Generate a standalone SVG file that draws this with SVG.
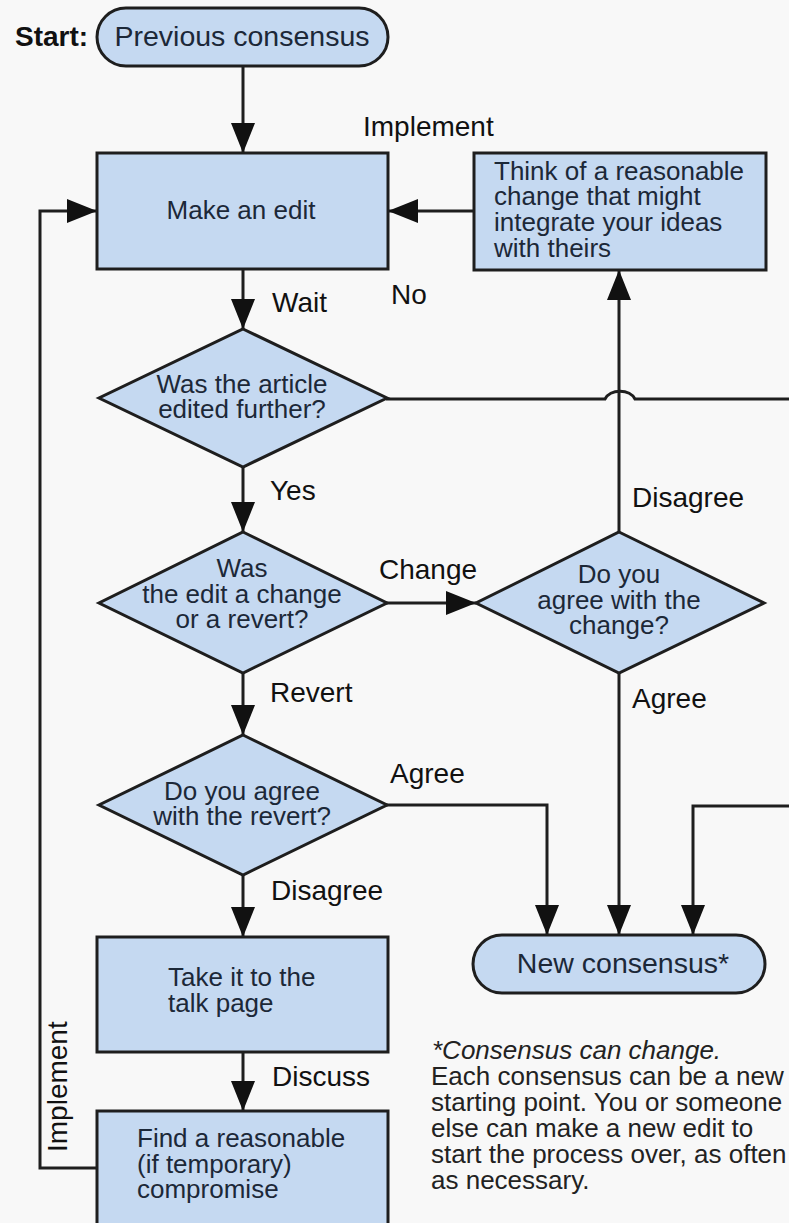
<svg xmlns="http://www.w3.org/2000/svg" width="789" height="1223" viewBox="0 0 789 1223">
<defs>
<style>
.bg{fill:#f8f8f8}
.node{fill:#c5d9f1;stroke:#1e1e1e;stroke-width:3}
.ntext{font-family:"Liberation Sans",Arial,sans-serif;font-size:26px;fill:#1c2838}
.ptext{font-family:"Liberation Sans",Arial,sans-serif;font-size:28.5px;fill:#1c2838}
.lbl{font-family:"Liberation Sans",Arial,sans-serif;font-size:28px;fill:#111}
.foot{font-family:"Liberation Sans",Arial,sans-serif;font-size:26px;fill:#222}
.conn{fill:none;stroke:#1e1e1e;stroke-width:3}
</style>
<marker id="arr" viewBox="0 0 30 24" refX="30" refY="12" markerWidth="30" markerHeight="24" markerUnits="userSpaceOnUse" orient="auto">
<path d="M0,0 L30,12 L0,24 z" fill="#111"/>
</marker>
</defs>
<rect class="bg" x="0" y="0" width="789" height="1223"/>

<g id="connectors">
<path class="conn" d="M243,66 V153" marker-end="url(#arr)"/>
<path class="conn" d="M243,269 V329" marker-end="url(#arr)"/>
<path class="conn" d="M243,467 V532" marker-end="url(#arr)"/>
<path class="conn" d="M243,673 V735" marker-end="url(#arr)"/>
<path class="conn" d="M243,875 V937" marker-end="url(#arr)"/>
<path class="conn" d="M243,1052 V1111" marker-end="url(#arr)"/>
<path class="conn" d="M97,1168 H40 V211 H97" marker-end="url(#arr)"/>
<path class="conn" d="M474,211 H388" marker-end="url(#arr)"/>
<path class="conn" d="M619,532 V270" marker-end="url(#arr)"/>
<path class="conn" d="M386,603 H476" marker-end="url(#arr)"/>
<path class="conn" d="M619,673 V935" marker-end="url(#arr)"/>
<path class="conn" d="M386,805 H547 V935" marker-end="url(#arr)"/>
<path class="conn" d="M386,399 H605 A16,12 0 0 1 635,399 H800 V806 H693 V935" marker-end="url(#arr)"/>
<text class="lbl" x="363" y="136">Implement</text>
<text class="lbl" x="272" y="312">Wait</text>
<text class="lbl" x="391" y="304">No</text>
<text class="lbl" x="270" y="500">Yes</text>
<text class="lbl" x="632" y="507">Disagree</text>
<text class="lbl" x="379" y="579">Change</text>
<text class="lbl" x="270" y="702">Revert</text>
<text class="lbl" x="632" y="708">Agree</text>
<text class="lbl" x="390" y="783">Agree</text>
<text class="lbl" x="271" y="900">Disagree</text>
<text class="lbl" x="272" y="1086">Discuss</text>
<text class="lbl" transform="translate(67,1152) rotate(-90)">Implement</text>
</g>

<g id="start">
<text x="15" y="46" font-family="Liberation Sans,Arial,sans-serif" font-size="28" font-weight="bold" fill="#111">Start:</text>
<rect class="node" x="97" y="8" width="291" height="58" rx="29" ry="29"/>
<text class="ptext" x="242" y="46" text-anchor="middle">Previous consensus</text>
</g>

<g id="make-edit">
<rect class="node" x="97" y="153" width="291" height="116"/>
<text class="ntext" x="241" y="219" text-anchor="middle">Make an edit</text>
</g>

<g id="think">
<rect class="node" x="474" y="153" width="292" height="117"/>
<text class="ntext" x="494" y="180">Think of a reasonable</text>
<text class="ntext" x="494" y="205">change that might</text>
<text class="ntext" x="494" y="231">integrate your ideas</text>
<text class="ntext" x="494" y="257">with theirs</text>
</g>

<g id="edited-further">
<path class="node" d="M243,329 L387,398 L243,467 L99,398 Z"/>
<text class="ntext" x="242" y="393" text-anchor="middle">Was the article</text>
<text class="ntext" x="242" y="418" text-anchor="middle">edited further?</text>
</g>

<g id="change-or-revert">
<path class="node" d="M243,532 L387,603 L243,673 L99,603 Z"/>
<text class="ntext" x="242" y="577" text-anchor="middle">Was</text>
<text class="ntext" x="242" y="603" text-anchor="middle">the edit a change</text>
<text class="ntext" x="242" y="628" text-anchor="middle">or a revert?</text>
</g>

<g id="agree-change">
<path class="node" d="M619,532 L764,603 L619,673 L476,603 Z"/>
<text class="ntext" x="619" y="583" text-anchor="middle">Do you</text>
<text class="ntext" x="619" y="609" text-anchor="middle">agree with the</text>
<text class="ntext" x="619" y="634" text-anchor="middle">change?</text>
</g>

<g id="agree-revert">
<path class="node" d="M243,735 L387,805 L243,875 L99,805 Z"/>
<text class="ntext" x="242" y="800" text-anchor="middle">Do you agree</text>
<text class="ntext" x="242" y="825" text-anchor="middle">with the revert?</text>
</g>

<g id="talk-page">
<rect class="node" x="97" y="937" width="291" height="115"/>
<text class="ntext" x="168" y="986">Take it to the</text>
<text class="ntext" x="168" y="1012">talk page</text>
</g>

<g id="compromise">
<rect class="node" x="97" y="1111" width="291" height="130"/>
<text class="ntext" x="137" y="1147">Find a reasonable</text>
<text class="ntext" x="137" y="1173">(if temporary)</text>
<text class="ntext" x="137" y="1198">compromise</text>
</g>

<g id="new-consensus">
<rect class="node" x="473" y="935" width="292" height="58" rx="29" ry="29"/>
<text class="ptext" x="623" y="973" text-anchor="middle">New consensus*</text>
</g>

<g id="footnote">
<text class="foot" x="432" y="1059" font-style="italic">*Consensus can change.</text>
<text class="foot" x="431" y="1085">Each consensus can be a new</text>
<text class="foot" x="431" y="1111">starting point. You or someone</text>
<text class="foot" x="431" y="1137">else can make a new edit to</text>
<text class="foot" x="431" y="1163">start the process over, as often</text>
<text class="foot" x="431" y="1189">as necessary.</text>
</g>
</svg>
